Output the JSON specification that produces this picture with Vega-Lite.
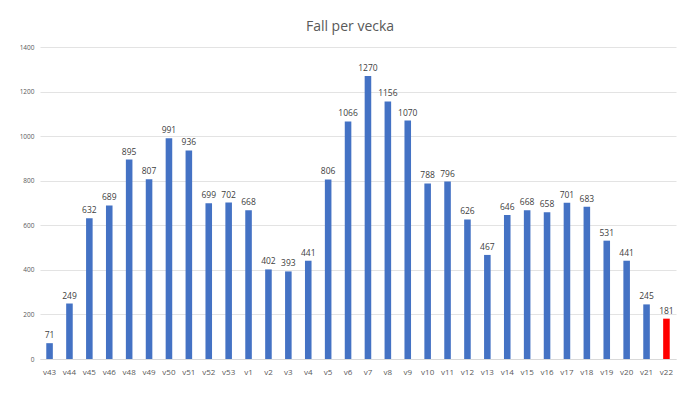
{
  "$schema": "https://vega.github.io/schema/vega-lite/v6.json",
  "width": 636,
  "height": 312,
  "autosize": {"type": "none"},
  "padding": {"left": 40, "top": 47, "right": 24, "bottom": 35},
  "background": "white",
  "config": {"view": {"stroke": null}, "font": "Open Sans"},
  "title": {"text": "Fall per vecka", "fontSize": 14, "fontWeight": "normal", "color": "#595959", "font": "Open Sans", "anchor": "middle", "offset": 10, "dx": -8},
  "data": {"values": [
    {"v": "v43", "fall": 71, "c": "b"},
    {"v": "v44", "fall": 249, "c": "b"},
    {"v": "v45", "fall": 632, "c": "b"},
    {"v": "v46", "fall": 689, "c": "b"},
    {"v": "v48", "fall": 895, "c": "b"},
    {"v": "v49", "fall": 807, "c": "b"},
    {"v": "v50", "fall": 991, "c": "b"},
    {"v": "v51", "fall": 936, "c": "b"},
    {"v": "v52", "fall": 699, "c": "b"},
    {"v": "v53", "fall": 702, "c": "b"},
    {"v": "v1", "fall": 668, "c": "b"},
    {"v": "v2", "fall": 402, "c": "b"},
    {"v": "v3", "fall": 393, "c": "b"},
    {"v": "v4", "fall": 441, "c": "b"},
    {"v": "v5", "fall": 806, "c": "b"},
    {"v": "v6", "fall": 1066, "c": "b"},
    {"v": "v7", "fall": 1270, "c": "b"},
    {"v": "v8", "fall": 1156, "c": "b"},
    {"v": "v9", "fall": 1070, "c": "b"},
    {"v": "v10", "fall": 788, "c": "b"},
    {"v": "v11", "fall": 796, "c": "b"},
    {"v": "v12", "fall": 626, "c": "b"},
    {"v": "v13", "fall": 467, "c": "b"},
    {"v": "v14", "fall": 646, "c": "b"},
    {"v": "v15", "fall": 668, "c": "b"},
    {"v": "v16", "fall": 658, "c": "b"},
    {"v": "v17", "fall": 701, "c": "b"},
    {"v": "v18", "fall": 683, "c": "b"},
    {"v": "v19", "fall": 531, "c": "b"},
    {"v": "v20", "fall": 441, "c": "b"},
    {"v": "v21", "fall": 245, "c": "b"},
    {"v": "v22", "fall": 181, "c": "r"}
  ]},
  "encoding": {
    "x": {"field": "v", "type": "nominal", "sort": null,
      "scale": {"paddingInner": 0.67, "paddingOuter": 0.315},
      "axis": {"title": null, "labelAngle": 0, "labelFontSize": 8, "labelColor": "#595959", "labelFont": "Open Sans", "domainColor": "#d9d9d9", "ticks": false, "labelPadding": 9}},
    "y": {"field": "fall", "type": "quantitative",
      "scale": {"domain": [0, 1400]},
      "axis": {"title": null, "values": [0, 200, 400, 600, 800, 1000, 1200, 1400], "format": "d", "labelFontSize": 6.5, "labelColor": "#595959", "labelFont": "Open Sans", "domain": false, "ticks": false, "gridColor": "#e3e3e3", "labelPadding": 6}}
  },
  "layer": [
    {"mark": {"type": "bar"},
     "encoding": {"color": {"field": "c", "type": "nominal", "scale": {"domain": ["b", "r"], "range": ["#4472C4", "#FF0000"]}, "legend": null}}},
    {"mark": {"type": "text", "dy": -8, "fontSize": 8.5, "color": "#404040", "font": "Open Sans"},
     "encoding": {"text": {"field": "fall", "type": "quantitative"}}}
  ]
}
